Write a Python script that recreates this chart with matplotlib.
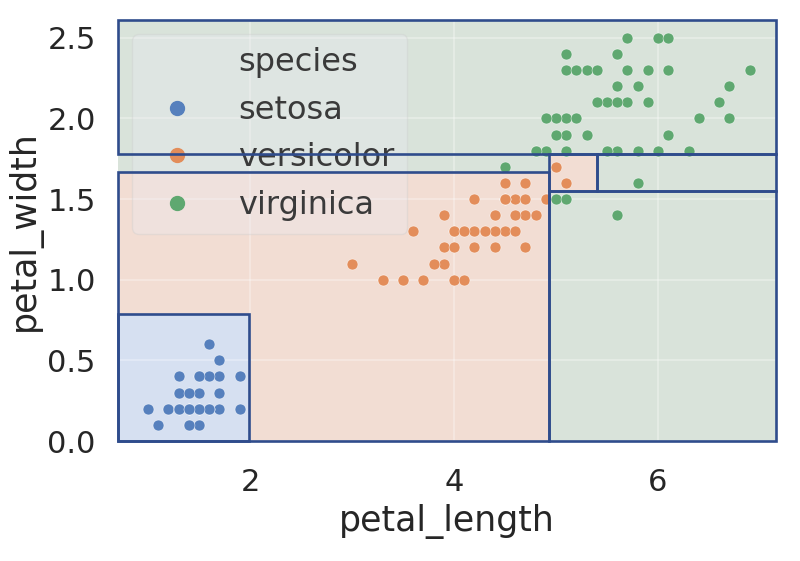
import numpy as np
import matplotlib
matplotlib.use('Agg')
import matplotlib.pyplot as plt
import seaborn as sns
from matplotlib.patches import Rectangle
from matplotlib.lines import Line2D

# iris petal measurements
setosa_length = [1.4, 1.4, 1.3, 1.5, 1.4, 1.7, 1.4, 1.5, 1.4, 1.5, 1.5, 1.6, 1.4, 1.1, 1.2, 1.5, 1.3, 1.4, 1.7, 1.5,
                 1.7, 1.5, 1.0, 1.7, 1.9, 1.6, 1.6, 1.5, 1.4, 1.6, 1.6, 1.5, 1.5, 1.4, 1.5, 1.2, 1.3, 1.4, 1.3, 1.5,
                 1.3, 1.3, 1.3, 1.6, 1.9, 1.4, 1.6, 1.4, 1.5, 1.4]
setosa_width = [0.2, 0.2, 0.2, 0.2, 0.2, 0.4, 0.3, 0.2, 0.2, 0.1, 0.2, 0.2, 0.1, 0.1, 0.2, 0.4, 0.4, 0.3, 0.3, 0.3,
                0.2, 0.4, 0.2, 0.5, 0.2, 0.2, 0.4, 0.2, 0.2, 0.2, 0.2, 0.4, 0.1, 0.2, 0.2, 0.2, 0.2, 0.1, 0.2, 0.2,
                0.3, 0.3, 0.2, 0.6, 0.4, 0.3, 0.2, 0.2, 0.2, 0.2]
versicolor_length = [4.7, 4.5, 4.9, 4.0, 4.6, 4.5, 4.7, 3.3, 4.6, 3.9, 3.5, 4.2, 4.0, 4.7, 3.6, 4.4, 4.5, 4.1, 4.5, 3.9,
                     4.8, 4.0, 4.9, 4.7, 4.3, 4.4, 4.8, 5.0, 4.5, 3.5, 3.8, 3.7, 3.9, 5.1, 4.5, 4.5, 4.7, 4.4, 4.1, 4.0,
                     4.4, 4.6, 4.0, 3.3, 4.2, 4.2, 4.2, 4.3, 3.0, 4.1]
versicolor_width = [1.4, 1.5, 1.5, 1.3, 1.5, 1.3, 1.6, 1.0, 1.3, 1.4, 1.0, 1.5, 1.0, 1.4, 1.3, 1.4, 1.5, 1.0, 1.5, 1.1,
                    1.8, 1.3, 1.5, 1.2, 1.3, 1.4, 1.4, 1.7, 1.5, 1.0, 1.1, 1.0, 1.2, 1.6, 1.5, 1.6, 1.5, 1.3, 1.3, 1.3,
                    1.2, 1.4, 1.2, 1.0, 1.3, 1.2, 1.3, 1.3, 1.1, 1.3]
virginica_length = [6.0, 5.1, 5.9, 5.6, 5.8, 6.6, 4.5, 6.3, 5.8, 6.1, 5.1, 5.3, 5.5, 5.0, 5.1, 5.3, 5.5, 6.7, 6.9, 5.0,
                    5.7, 4.9, 6.7, 4.9, 5.7, 6.0, 4.8, 4.9, 5.6, 5.8, 6.1, 6.4, 5.6, 5.1, 5.6, 6.1, 5.6, 5.5, 4.8, 5.4,
                    5.6, 5.1, 5.1, 5.9, 5.7, 5.2, 5.0, 5.2, 5.4, 5.1]
virginica_width = [2.5, 1.9, 2.1, 1.8, 2.2, 2.1, 1.7, 1.8, 1.8, 2.5, 2.0, 1.9, 2.1, 2.0, 2.4, 2.3, 1.8, 2.2, 2.3, 1.5,
                   2.3, 2.0, 2.0, 1.8, 2.1, 1.8, 1.8, 1.8, 2.1, 1.6, 1.9, 2.0, 2.2, 1.5, 1.4, 2.3, 2.4, 1.8, 1.8, 2.1,
                   2.4, 2.3, 1.9, 2.3, 2.5, 2.3, 1.9, 2.0, 2.3, 1.8]

species = ['setosa', 'versicolor', 'virginica']
lengths = [setosa_length, versicolor_length, virginica_length]
widths = [setosa_width, versicolor_width, virginica_width]

# decision regions (None -> axis limit)
region_x0 = [None, 1.99, None, None, 4.93, 5.40, 4.93]
region_x1 = [1.99, 4.93, 4.93, None, 5.40, None, None]
region_y0 = [0.0, 0.0, 1.67, 1.78, 1.55, 1.55, 0.0]
region_y1 = [0.79, 1.67, 1.78, None, 1.78, 1.78, 1.55]
region_species = ['setosa', 'versicolor', 'virginica', 'virginica', 'versicolor', 'virginica', 'virginica']

# region outlines as drawn in the chart
outline_x0 = [None, None, None, 4.93, 5.40, 4.93]
outline_x1 = [1.99, 4.93, None, 5.40, None, None]
outline_y0 = [0.0, 0.0, 1.78, 1.55, 1.55, 0.0]
outline_y1 = [0.79, 1.67, None, 1.78, 1.78, 1.55]

point_colors = {'setosa': '#5680bd', 'versicolor': '#e38d5a', 'virginica': '#5fa870'}
fill_colors = {'setosa': '#d6e0f1', 'versicolor': '#f2ddd3', 'virginica': '#d9e3da'}
edge_color = '#2f4c8c'

sns.set_theme(style='darkgrid')
plt.rcParams['font.family'] = ['DejaVu Sans']
plt.rcParams['text.color'] = '#2b2b2b'

fig = plt.figure(figsize=(8, 5.61), dpi=100)
ax = fig.add_axes([0.1475, 0.2139, 0.8225, 0.7504])
xlim = (0.706, 7.157)
ylim = (0.0, 2.61)
ax.set_xlim(*xlim)
ax.set_ylim(*ylim)


def lim(v, default):
    return default if v is None else v


# region fills (below the points)
for x0, x1, y0, y1, sp in zip(region_x0, region_x1, region_y0, region_y1, region_species):
    x0 = lim(x0, xlim[0])
    x1 = lim(x1, xlim[1])
    y1 = lim(y1, ylim[1])
    ax.add_patch(Rectangle((x0, y0), x1 - x0, y1 - y0, facecolor=fill_colors[sp], edgecolor='none', zorder=0.3))
# left part of the versicolor box, above the setosa box
ax.add_patch(Rectangle((xlim[0], region_y1[0]), region_x1[1] - xlim[0], region_y1[1] - region_y1[0],
                       facecolor=fill_colors['versicolor'], edgecolor='none', zorder=0.35))

ax.grid(True, color='white', alpha=0.35, linewidth=1.2)
ax.set_axisbelow(True)
for gl in ax.get_xgridlines() + ax.get_ygridlines():
    gl.set_zorder(0.4)

for sp, x, y in zip(species, lengths, widths):
    ax.scatter(x, y, s=62, color=point_colors[sp], edgecolor='white', linewidth=0.3, zorder=2, label=sp)

for x0, x1, y0, y1 in zip(outline_x0, outline_x1, outline_y0, outline_y1):
    x0 = lim(x0, xlim[0])
    x1 = lim(x1, xlim[1])
    y1 = lim(y1, ylim[1])
    ax.add_patch(Rectangle((x0, y0), x1 - x0, y1 - y0, fill=False, edgecolor=edge_color, linewidth=1.9, zorder=6,
                           clip_on=False))

handles = [Line2D([], [], linestyle='', marker='')]
labels = ['species']
for sp in species:
    handles.append(Line2D([], [], linestyle='', marker='o', markersize=10, color=point_colors[sp]))
    labels.append(sp)
leg = ax.legend(handles, labels, loc='upper left', fontsize=23, frameon=True, framealpha=0.35,
                borderaxespad=0.45, labelspacing=0.52, handletextpad=0.9, borderpad=0.4)
leg.set_zorder(5)
for t in leg.get_texts():
    t.set_color('#3a3a3a')

ax.set_xticks([2, 4, 6])
ax.set_yticks([0.0, 0.5, 1.0, 1.5, 2.0, 2.5])
ax.set_yticklabels(['0.0', '0.5', '1.0', '1.5', '2.0', '2.5'])
ax.tick_params(labelsize=22, colors='#262626')
ax.tick_params(axis='x', pad=13.5)
ax.tick_params(axis='y', pad=10)
ax.set_xlabel('petal_length', fontsize=25, labelpad=5)
ax.set_ylabel('petal_width', fontsize=25, labelpad=4)
for s in ax.spines.values():
    s.set_visible(False)

fig.savefig('out.png', dpi=100, facecolor='white')
